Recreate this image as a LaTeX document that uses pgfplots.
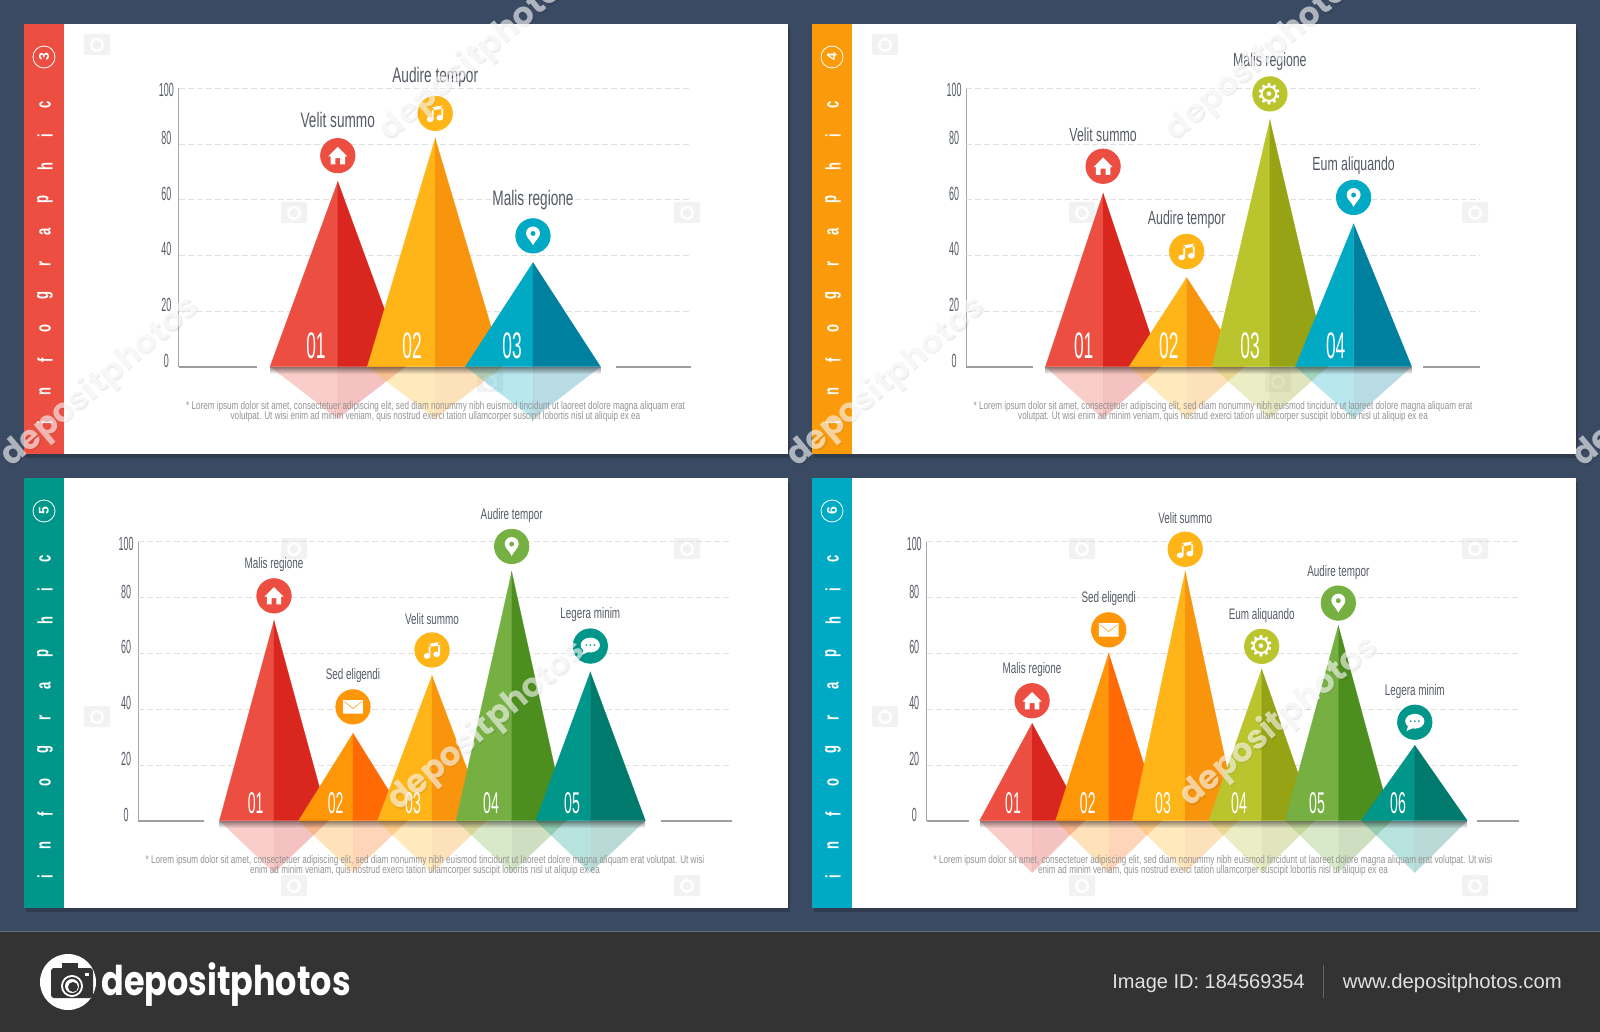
\documentclass[border=0pt]{standalone}
\usepackage{fontspec}
\usepackage{pgfplots}
\pgfplotsset{compat=1.18}
\usetikzlibrary{fadings}
\setmainfont{Liberation Sans}
\newfontfamily\lab{Liberation Sans}[FakeStretch=0.65]
\newfontfamily\nar{Liberation Sans}[FakeStretch=0.47]
\newfontfamily\note{Liberation Sans}[FakeStretch=0.725]
\newfontfamily\sidef{Liberation Sans}[FakeStretch=0.62]
\newfontfamily\pop{Poppins}[FakeStretch=0.815]
\newfontfamily\wm{Poppins}
\newfontfamily\djv{DejaVu Sans}
\definecolor{bg}{HTML}{3A4A62}
\definecolor{foot}{HTML}{333333}
\definecolor{redL}{HTML}{EC4F42}\definecolor{redR}{HTML}{D9261F}
\definecolor{yelL}{HTML}{FFB517}\definecolor{yelR}{HTML}{F9950C}
\definecolor{cyaL}{HTML}{00A9C4}\definecolor{cyaR}{HTML}{00809F}
\definecolor{oraL}{HTML}{FF9608}\definecolor{oraR}{HTML}{FF6A05}
\definecolor{limL}{HTML}{BAC42D}\definecolor{limR}{HTML}{96A314}
\definecolor{greL}{HTML}{76B043}\definecolor{greR}{HTML}{4D8F1E}
\definecolor{teaL}{HTML}{00978A}\definecolor{teaR}{HTML}{007A6C}
\definecolor{sideO}{HTML}{FB9A0A}
\definecolor{labc}{HTML}{565B66}
\def\pp#1#2{\pgfqpoint{#1pt}{#2pt}}
\pgfdeclareplotmark{ihouse}{%
  \pgfpathmoveto{\pp{0}{4.4}}\pgfpathlineto{\pp{4.8}{-.4}}\pgfpathlineto{\pp{3.6}{-.4}}\pgfpathlineto{\pp{3.6}{-4.3}}
  \pgfpathlineto{\pp{1.2}{-4.3}}\pgfpathlineto{\pp{1.2}{-1.2}}\pgfpathlineto{\pp{-1.2}{-1.2}}\pgfpathlineto{\pp{-1.2}{-4.3}}
  \pgfpathlineto{\pp{-3.6}{-4.3}}\pgfpathlineto{\pp{-3.6}{-.4}}\pgfpathlineto{\pp{-4.8}{-.4}}\pgfpathclose\pgfusepathqfill}
\pgfdeclareplotmark{ipin}{\pgfseteorule
  \pgfpathmoveto{\pp{0}{-4.7}}\pgfpathcurveto{\pp{-1}{-2.4}}{\pp{-3.5}{-.8}}{\pp{-3.5}{1.2}}
  \pgfpathcurveto{\pp{-3.5}{3.2}}{\pp{-1.9}{4.7}}{\pp{0}{4.7}}\pgfpathcurveto{\pp{1.9}{4.7}}{\pp{3.5}{3.2}}{\pp{3.5}{1.2}}
  \pgfpathcurveto{\pp{3.5}{-.8}}{\pp{1}{-2.4}}{\pp{0}{-4.7}}\pgfpathclose
  \pgfpathcircle{\pp{0}{1.2}}{1.3pt}\pgfusepathqfill}
\pgfdeclareplotmark{ichat}{%
  \pgfpathmoveto{\pp{-3.2}{-1.4}}\pgfpathlineto{\pp{-4.2}{-4.4}}\pgfpathlineto{\pp{-.4}{-2.7}}\pgfpathclose\pgfusepathqfill
  \pgfseteorule\pgfpathellipse{\pp{0}{.5}}{\pp{4.8}{0}}{\pp{0}{3.7}}
  \pgfpathcircle{\pp{-2}{.5}}{.6pt}\pgfpathcircle{\pp{0}{.5}}{.6pt}\pgfpathcircle{\pp{2}{.5}}{.6pt}\pgfusepathqfill}
\pgfdeclareplotmark{imail}{\pgfseteorule
  \pgfpathrectanglecorners{\pp{-4.9}{-3.4}}{\pp{4.9}{3.4}}
  \pgfpathmoveto{\pp{-4.5}{2.9}}\pgfpathlineto{\pp{0}{-.5}}\pgfpathlineto{\pp{4.5}{2.9}}\pgfpathlineto{\pp{4.5}{2.4}}\pgfpathlineto{\pp{0}{-1.1}}\pgfpathlineto{\pp{-4.5}{2.4}}\pgfpathclose
  \pgfusepathqfill}
\pgfdeclareplotmark{imusic}{%
  \pgfpathellipse{\pp{-2.5}{-3}}{\pp{1.7}{0}}{\pp{0}{1.4}}\pgfpathellipse{\pp{2.3}{-2.2}}{\pp{1.7}{0}}{\pp{0}{1.4}}
  \pgfpathrectanglecorners{\pp{-1.7}{-3}}{\pp{-.8}{2.8}}\pgfpathrectanglecorners{\pp{3.1}{-2.2}}{\pp{4}{3.8}}
  \pgfpathmoveto{\pp{-1.7}{3}}\pgfpathlineto{\pp{4}{4}}\pgfpathlineto{\pp{4}{2.4}}\pgfpathlineto{\pp{-1.7}{1.4}}\pgfpathclose
  \pgfusepathqfill}
\pgfplotsset{
  iconhouse/.style={only marks,mark=ihouse},iconpin/.style={only marks,mark=ipin},
  iconchat/.style={only marks,mark=ichat},iconmail/.style={only marks,mark=imail},
  iconmusic/.style={only marks,mark=imusic},
  icongear/.style={draw=none,mark=none,nodes near coords={⚙},
     nodes near coords style={anchor=center,text=white,font=\fontsize{14.5}{15}\djv}},
  panel/.style={scale only axis, clip=false,
  axis x line=none, axis y line=left, axis line style={-,draw=black!35,line width=.5pt},
  ymin=0, ymax=100, ytick={0,20,40,60,80}, extra y ticks={100},
  extra y tick style={yticklabel style={yshift=-4pt}},
  ytick style={draw=none}, tick style={draw=none},
  /pgf/number format/assume math mode=true,
  yticklabel style={font=\fontsize{9.5}{10}\nar, text=labc, anchor=center, xshift=-4pt, yshift=3pt}}}
% apex x, left, right, value, colours
\newcommand\tri[6]{%
  \addplot[fill=#5,draw=none,fill opacity=.28] coordinates {(#2,0)(#1,-18.7)(#1,0)} --cycle;
  \addplot[fill=#6,draw=none,fill opacity=.28] coordinates {(#1,0)(#1,-18.7)(#3,0)} --cycle;
  \addplot[fill=#5,draw=#5,line width=.1pt] coordinates {(#2,0)(#1,#4)(#1,0)} --cycle;
  \addplot[fill=#6,draw=#6,line width=.1pt] coordinates {(#1,0)(#1,#4)(#3,0)} --cycle;}
\newcommand\pknum[2]{\addplot[mark=none,draw=none,nodes near coords={#2},
  nodes near coords style={anchor=center,yshift=\numshift,text=white,font=\numfont}] coordinates {(#1,0)};}
\newcommand\ico[5]{%
  \addplot[only marks,color=#3,mark=*,mark size=8.6pt,mark options={fill=#3,draw=#3}] coordinates {(#1,#2)};
  \addplot[color=white,mark options={fill=white,draw=none},#5] coordinates {(#1,#2)};
  \addplot[mark=none,draw=none,nodes near coords={#4},
    nodes near coords style={anchor=center,yshift=\labshift,text=labc,font=\labfont}] coordinates {(#1,#2)};}
\newcommand\gl[2]{\addplot[black!12,dash pattern=on 3pt off 1.5pt,line width=.4pt] coordinates {(#1,20)(#2,20)};
  \addplot[black!12,dash pattern=on 3pt off 1.5pt,line width=.4pt] coordinates {(#1,40)(#2,40)};
  \addplot[black!12,dash pattern=on 3pt off 1.5pt,line width=.4pt] coordinates {(#1,60)(#2,60)};
  \addplot[black!12,dash pattern=on 3pt off 1.5pt,line width=.4pt] coordinates {(#1,80)(#2,80)};
  \addplot[black!12,dash pattern=on 3pt off 1.5pt,line width=.4pt] coordinates {(#1,100)(#2,100)};}
\newcommand\base[4]{\addplot[black!38,line width=.8pt] coordinates {(#1,0)(#2,0)};
  \addplot[black!38,line width=.8pt] coordinates {(#3,0)(#4,0)};}
\newcommand\shadow[2]{\addplot[draw=none,fill=black,fill opacity=.45,path fading=south] coordinates {(#1,0)(#2,0)(#2,-2.6)(#1,-2.6)} --cycle;}
\newcommand\side[3]{% x centre, dy, digit
  \begin{scope}[shift={(0,#2)}]
  \foreach \c/\y in {i/423,n/392,f/360,o/329,g/296,r/264,a/232,p/200,h/167,i/136,c/105}
    \node[rotate=90,text=white,font=\fontsize{10.5}{11}\sidef\bfseries] at (#1+1,\y) {\c};
  \draw[white,line width=.4pt] (#1,57) circle [radius=11];
  \node[rotate=90,text=white,font=\fontsize{7}{8}\bfseries] at (#1,57) {#3};
  \end{scope}}
\newcommand\panel[5]{\fill[black,opacity=.18] (#1+2,#2+4) rectangle (#3+2,#4+4);
  \fill[white] (#1,#2) rectangle (#3,#4);
  \fill[#5] (#1,#2) rectangle (#1+40,#4);}
\newcommand\cam[2]{\begin{scope}[shift={(#1,#2)}]
  \fill[black!5,rounded corners=1pt] (-13,-10) rectangle (13,11);
  \fill[white] (0,1) circle [radius=7];\fill[black!5] (0,1) circle [radius=4.5];\end{scope}}
\newcommand\wmk[2]{\node[rotate=40,text=black,opacity=.07,font=\fontsize{16.5}{17}\wm\bfseries] at (#1+1.5,#2+1.5) {depositphotos};
  \node[rotate=40,text=white,opacity=.6,font=\fontsize{16.5}{17}\wm\bfseries] at (#1,#2) {depositphotos};}
\begin{document}
\begin{tikzpicture}[x=.5pt,y=-.5pt]
\path[use as bounding box] (0,0) rectangle (1600,1032);
\clip (0,0) rectangle (1600,1032);
\fill[bg] (0,0) rectangle (1600,932);
\fill[foot] (0,932) rectangle (1600,1032);
\draw[white,opacity=.2,line width=.4pt] (0,931.5) -- (1600,931.5);
\panel{24}{24}{788}{454}{redL}
\panel{812}{24}{1576}{454}{sideO}
\panel{24}{478}{788}{908}{teaL}
\panel{812}{478}{1576}{908}{cyaL}
\side{44}{0}{3}\side{832}{0}{4}\side{44}{454}{5}\side{832}{454}{6}
\foreach \p/\q in {97/44,294/212,687/212,490/381,885/44,1082/212,1475/212,1278/381,
  294/548,687/548,97/716,294/885,687/885,1082/548,1475/548,885/716,1082/885,1475/885} {\cam{\p}{\q}}

% ---------- panel 1
\def\labfont{\fontsize{10.5}{12}\lab}\def\numfont{\fontsize{18.5}{20}\nar}\def\labshift{18pt}\def\numshift{10.5pt}
\begin{axis}[panel,width=256.2pt,height=139.2pt,at={(89.3pt,-183.35pt)},anchor=south west,xmin=178.6,xmax=691]
\gl{178.6}{691}\base{178.6}{257}{616}{691}
\tri{337.8}{270}{405.5}{66.5}{redL}{redR}
\tri{435.2}{367.3}{503}{82}{yelL}{yelR}
\tri{533}{465.3}{600.5}{37.4}{cyaL}{cyaR}
\shadow{270}{600.5}
\pknum{316}{01}\pknum{412}{02}\pknum{512}{03}
\ico{337.8}{75.8}{redL}{Velit summo}{iconhouse}
\ico{435.2}{91}{yelL}{Audire tempor}{iconmusic}
\ico{533}{47}{cyaL}{Malis regione}{iconpin}
\end{axis}
% ---------- panel 2
\def\labfont{\fontsize{9.5}{11}\lab}\def\labshift{16pt}
\begin{axis}[panel,width=256.65pt,height=139.2pt,at={(483.15pt,-183.35pt)},anchor=south west,xmin=966.3,xmax=1479.6]
\gl{966.3}{1479.6}\base{966.3}{1032.7}{1423}{1479.6}
\tri{1103.1}{1045.4}{1161}{62.3}{redL}{redR}
\tri{1186.7}{1129}{1244.4}{32}{yelL}{yelR}
\tri{1269.9}{1212.2}{1327.6}{88.6}{limL}{limR}
\tri{1353.6}{1295.4}{1411.7}{51.3}{cyaL}{cyaR}
\shadow{1045.4}{1411.7}
\pknum{1083.7}{01}\pknum{1168.9}{02}\pknum{1250}{03}\pknum{1335.7}{04}
\ico{1103.1}{72}{redL}{Velit summo}{iconhouse}
\ico{1186.7}{41.4}{yelL}{Audire tempor}{iconmusic}
\ico{1269.9}{98}{limL}{Malis regione}{icongear}
\ico{1353.6}{60.8}{cyaL}{Eum aliquando}{iconpin}
\end{axis}
% ---------- panel 3
\def\labfont{\fontsize{7.6}{9}\lab}\def\numfont{\fontsize{15}{16}\nar}\def\labshift{15.5pt}\def\numshift{9pt}
\begin{axis}[panel,width=296.65pt,height=139.5pt,at={(69.15pt,-410.35pt)},anchor=south west,xmin=138.3,xmax=731.6]
\gl{138.3}{731.6}\base{138.3}{204}{661}{731.6}
\tri{274}{219.4}{328.6}{71.7}{redL}{redR}
\tri{353}{298.5}{407.5}{31.3}{oraL}{oraR}
\tri{432}{377.5}{486.5}{52}{yelL}{yelR}
\tri{511.7}{456}{566.4}{89.2}{greL}{greR}
\tri{590.3}{535.7}{645.4}{53.3}{teaL}{teaR}
\shadow{219.4}{645.4}
\pknum{255.6}{01}\pknum{335.7}{02}\pknum{413}{03}\pknum{491}{04}\pknum{572}{05}
\ico{274}{80.6}{redL}{Malis regione}{iconhouse}
\ico{353}{40.8}{oraL}{Sed eligendi}{iconmail}
\ico{432}{61.2}{yelL}{Velit summo}{iconmusic}
\ico{511.7}{98.3}{greL}{Audire tempor}{iconpin}
\ico{590.3}{62.6}{teaL}{Legera minim}{iconchat}
\end{axis}
% ---------- panel 4
\begin{axis}[panel,width=296.45pt,height=139.5pt,at={(463.25pt,-410.35pt)},anchor=south west,xmin=926.5,xmax=1519.4]
\gl{926.5}{1519.4}\base{926.5}{969}{1477}{1519.4}
\tri{1032.1}{979.6}{1084.6}{34.9}{redL}{redR}
\tri{1108.7}{1055.6}{1161.8}{60}{oraL}{oraR}
\tri{1185.2}{1132.1}{1238.3}{89.3}{yelL}{yelR}
\tri{1261.7}{1208.7}{1314.7}{54.3}{limL}{limR}
\tri{1338.3}{1285.2}{1391.4}{69.9}{greL}{greR}
\tri{1414.8}{1361.2}{1467.3}{27}{teaL}{teaR}
\shadow{979.6}{1467.3}
\pknum{1013}{01}\pknum{1087.8}{02}\pknum{1163}{03}\pknum{1239}{04}\pknum{1317}{05}\pknum{1398}{06}
\ico{1032.1}{43}{redL}{Malis regione}{iconhouse}
\ico{1108.7}{68.4}{oraL}{Sed eligendi}{iconmail}
\ico{1185.2}{97.3}{yelL}{Velit summo}{iconmusic}
\ico{1261.7}{62.5}{limL}{Eum aliquando}{icongear}
\ico{1338.3}{78}{greL}{Audire tempor}{iconpin}
\ico{1414.8}{35.3}{teaL}{Legera minim}{iconchat}
\end{axis}

% footnotes
\def\fa{* Lorem ipsum dolor sit amet, consectetuer adipiscing elit, sed diam nonummy nibh euismod tincidunt ut laoreet dolore magna aliquam erat}
\def\fb{volutpat. Ut wisi enim ad minim veniam, quis nostrud exerci tation ullamcorper suscipit lobortis nisl ut aliquip ex ea}
\def\fc{* Lorem ipsum dolor sit amet, consectetuer adipiscing elit, sed diam nonummy nibh euismod tincidunt ut laoreet dolore magna aliquam erat volutpat. Ut wisi}
\def\fd{enim ad minim veniam, quis nostrud exerci tation ullamcorper suscipit lobortis nisl ut aliquip ex ea}
\tikzset{fn/.style={text=black!42,font=\fontsize{5.6}{6}\note,inner sep=0pt}}
\node[fn] at (435.5,407) {\fa};\node[fn] at (435.5,417) {\fb};
\node[fn] at (1223,407) {\fa};\node[fn] at (1223,417) {\fb};
\node[fn] at (425,861) {\fc};\node[fn] at (425,870.5) {\fd};
\node[fn] at (1213,861) {\fc};\node[fn] at (1213,870.5) {\fd};

% watermark
\wmk{100}{382}\wmk{886}{382}\wmk{478}{55}\wmk{1264}{55}\wmk{487}{726}\wmk{1279}{722}\wmk{1672}{382}

% footer
\fill[white] (68,982) circle [radius=28];
\fill[foot,rounded corners=1.5pt] (51,968) rectangle (93,998);
\fill[foot] (62,963) rectangle (78,969);
\fill[white] (72,986) circle [radius=11];\fill[foot] (72,986) circle [radius=9];\fill[white] (72,986) circle [radius=7];\fill[foot] (73,987) circle [radius=5];
\fill[white] (85,973) rectangle (89,976);
\node[anchor=base west,text=white,font=\fontsize{20.5}{22}\pop\bfseries,inner sep=0pt] at (101,995) {depositphotos};
\node[anchor=base west,text=white!88!black,font=\fontsize{10}{12}\selectfont,inner sep=0pt] at (1112,988) {Image ID: 184569354};
\draw[white,opacity=.25,line width=.4pt] (1323,965) -- (1323,998);
\node[anchor=base west,text=white!88!black,font=\fontsize{10.15}{12}\selectfont,inner sep=0pt] at (1342.5,988) {www.depositphotos.com};
\end{tikzpicture}
\end{document}
